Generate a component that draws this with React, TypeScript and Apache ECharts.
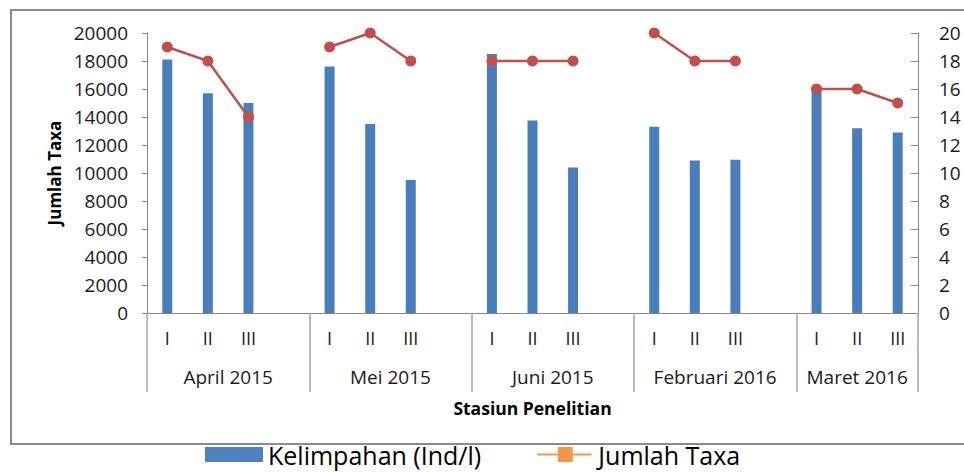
import React, { useEffect, useRef } from "react";
import * as echarts from "echarts";

const months = ["April 2015", "Mei 2015", "Juni 2015", "Februari 2016", "Maret 2016"];
const stations = ["I", "II", "III"];
const kelimpahan = [
  18100, 15700, 15000,
  17600, 13500, 9500,
  18500, 13750, 10400,
  13300, 10900, 10950,
  16000, 13200, 12900,
];
const jumlahTaxa = [
  19, 18, 14,
  19, 20, 18,
  18, 18, 18,
  20, 18, 18,
  16, 16, 15,
];
const leftTicks = { min: 0, max: 20000, interval: 2000 };
const rightTicks = { min: 0, max: 20, interval: 2 };

const FONT = "'Open Sans', Lato, sans-serif";

export default function App() {
  const ref = useRef<HTMLDivElement>(null);
  useEffect(() => {
    if (!ref.current) return;
    const chart = echarts.init(ref.current, null, { renderer: "svg" });

    const cats: string[] = [];
    const stationLabel: string[] = [];
    const barData: (number | null)[] = [];
    const lineData: (number | null)[] = [];
    const groupStart: number[] = [];
    const groupEnd: number[] = [];
    months.forEach((m, gi) => {
      groupStart.push(cats.length);
      stations.forEach((s, si) => {
        cats.push(m + "|" + s);
        stationLabel.push(s);
        barData.push(kelimpahan[gi * 3 + si]);
        lineData.push(jumlahTaxa[gi * 3 + si]);
      });
      if (gi < months.length - 1) {
        cats.push(m + "|");
        stationLabel.push("");
        barData.push(null);
        lineData.push(null);
      }
      groupEnd.push(cats.length);
    });
    const nHalf = cats.length * 2 + 1;
    const halfCats: string[] = [];
    const halfLabels: string[] = [];
    for (let i = 0; i < nHalf; i++) {
      halfCats.push("h" + i);
      halfLabels.push("");
    }
    const sepSet = new Set<number>();
    months.forEach((m, gi) => {
      halfLabels[groupStart[gi] + groupEnd[gi]] = m;
      sepSet.add(groupStart[gi] * 2);
      sepSet.add(groupEnd[gi] * 2);
    });

    chart.setOption({
      animation: false,
      textStyle: { fontFamily: FONT },
      graphic: [
        {
          type: "rect",
          shape: { x: 11, y: 10, width: 1000, height: 434 },
          style: { fill: "none", stroke: "#8a8a8a", lineWidth: 2 },
          silent: true,
        },
      ],
      legend: {
        left: 205,
        top: 442,
        padding: 0,
        itemWidth: 58,
        itemHeight: 15,
        itemGap: 56,
        textStyle: { fontSize: 25, color: "#000", fontFamily: FONT, lineHeight: 25 },
        data: [
          { name: "Kelimpahan (Ind/l)", icon: "rect", itemStyle: { color: "#4F81BD", borderWidth: 0 } },
          {
            name: "Jumlah Taxa",
            icon: "path://M0,7h58v2H0z M22,0h16v16H22z",
            itemStyle: { color: "#F79646", borderWidth: 0 },
          },
        ],
      },
      grid: { left: 147, right: 46, top: 33, bottom: 159, containLabel: false },
      xAxis: [
        {
          type: "category",
          data: cats,
          position: "bottom",
          axisLine: { show: true, lineStyle: { color: "#868686", width: 1 } },
          axisTick: { show: false },
          axisLabel: {
            interval: 0,
            margin: 16,
            fontSize: 18,
            color: "#1a1a1a",
            fontFamily: FONT,
            formatter: (_v: string, idx: number) => stationLabel[idx],
          },
          name: "Stasiun Penelitian",
          nameLocation: "middle",
          nameGap: 86,
          nameTextStyle: { fontWeight: "bold", fontSize: 17.5, color: "#000", fontFamily: FONT },
        },
        {
          type: "category",
          data: halfCats,
          boundaryGap: false,
          position: "bottom",
          axisLine: { show: false },
          axisTick: {
            show: true,
            interval: (idx: number) => sepSet.has(idx),
            length: 79,
            lineStyle: { color: "#a6a6a6", width: 1.5 },
          },
          axisLabel: {
            interval: 0,
            margin: 54,
            fontSize: 19,
            color: "#1a1a1a",
            fontFamily: FONT,
            formatter: (_v: string, idx: number) => halfLabels[idx],
          },
          splitLine: { show: false },
        },
      ],
      yAxis: [
        {
          type: "value",
          ...leftTicks,
          position: "left",
          splitLine: { show: false },
          axisLine: { show: true, lineStyle: { color: "#868686" } },
          axisTick: { show: true, length: 5, lineStyle: { color: "#868686" } },
          axisLabel: {
            margin: 19,
            fontSize: 19,
            color: "#1a1a1a",
            fontFamily: FONT,
            formatter: (v: number) => String(v),
          },
          name: "Jumlah Taxa",
          nameLocation: "middle",
          nameGap: 84,
          nameTextStyle: { fontWeight: "bold", fontSize: 17, color: "#000", fontFamily: FONT },
        },
        {
          type: "value",
          ...rightTicks,
          position: "right",
          splitLine: { show: false },
          axisLine: { show: true, lineStyle: { color: "#868686" } },
          axisTick: { show: true, inside: true, length: 7, lineStyle: { color: "#868686" } },
          axisLabel: {
            margin: 21,
            fontSize: 19,
            color: "#1a1a1a",
            fontFamily: FONT,
            formatter: (v: number) => String(v),
          },
        },
      ],
      series: [
        {
          name: "Kelimpahan (Ind/l)",
          type: "bar",
          xAxisIndex: 0,
          yAxisIndex: 0,
          data: barData,
          barWidth: 10,
          itemStyle: { color: "#4A7EBB" },
        },
        {
          name: "Jumlah Taxa",
          type: "line",
          xAxisIndex: 0,
          yAxisIndex: 1,
          data: lineData,
          connectNulls: false,
          symbol: "circle",
          symbolSize: 11,
          lineStyle: { color: "#C0504D", width: 2.5 },
          itemStyle: { color: "#C0504D" },
        },
      ],
    });
    return () => chart.dispose();
  }, []);
  return (
    <div
      ref={ref}
      style={{ position: "fixed", left: 0, top: 0, width: 964, height: 472, background: "#fff" }}
    />
  );
}
